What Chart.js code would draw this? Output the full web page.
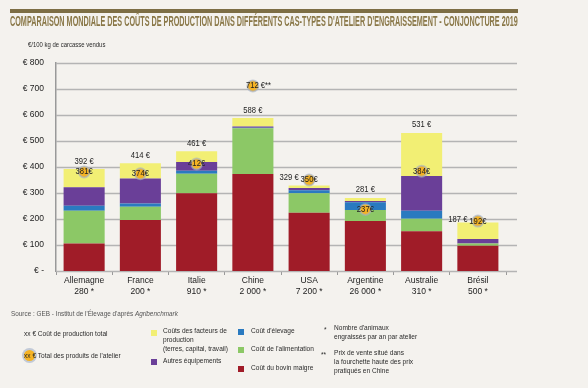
<!DOCTYPE html>
<html>
<head>
<meta charset="utf-8">
<script src="https://cdn.jsdelivr.net/npm/chart.js@4/dist/chart.umd.min.js"></script>
<style>
  body { margin: 0; background: #f4f2ee; }
  #wrap { position: relative; width: 588px; height: 388px; overflow: hidden; background: #f4f2ee;
          font-family: "Liberation Sans", Arial, sans-serif; color: #2a2a2a; }
  #chart { position: absolute; left: 0; top: 0; }
  .abs { position: absolute; white-space: nowrap; }
  #bar_top { left: 10px; top: 9px; width: 508px; height: 4px; background: #7d6e45; }
  #title { left: 10px; top: 13px; font-size: 14.5px; font-weight: bold; color: #8a7848; transform-origin: 0 0; }
  #unit { left: 28px; top: 41px; font-size: 7px; transform: scaleX(0.85); transform-origin: 0 0; }
  #source { left: 11px; top: 309px; font-size: 7.5px; color: #555; transform: scaleX(0.85); transform-origin: 0 0; }
  .lg { font-size: 8px; line-height: 9px; transform: scaleX(0.82); transform-origin: 0 0; }
  .sq { position: absolute; width: 6px; height: 6px; }
  .dot { position: absolute; width: 11px; height: 11px; border-radius: 50%; background: #f5b324; box-shadow: 0 0 0 2px rgba(160,175,200,0.6); }
</style>
</head>
<body>
<div id="wrap">
  <canvas id="chart" width="588" height="388"></canvas>
  <div class="abs" id="bar_top"></div>
  <div class="abs" id="title">COMPARAISON MONDIALE DES COÛTS DE PRODUCTION DANS DIFFÉRENTS CAS-TYPES D'ATELIER D'ENGRAISSEMENT - CONJONCTURE 2019</div>
  <div class="abs" id="unit">€/100 kg de carcasse vendus</div>
  <div class="abs" id="source">Source : GEB - Institut de l'Élevage d'après <i>Agribenchmark</i></div>

  <div class="abs lg" style="left:24px; top:329px;">xx € Coût de production total</div>
  <div class="dot" style="left:24px; top:350px;"></div>
  <div class="abs lg" style="left:24px; top:351px;">xx € Total des produits de l'atelier</div>

  <div class="sq" style="left:151px; top:330px; background:#f2ef74;"></div>
  <div class="abs lg" style="left:163px; top:326px;">Coûts des facteurs de<br>production<br>(terres, capital, travail)</div>
  <div class="sq" style="left:151px; top:359px; background:#6a3f98;"></div>
  <div class="abs lg" style="left:163px; top:356px;">Autres équipements</div>

  <div class="sq" style="left:238px; top:329px; background:#2a7ac0;"></div>
  <div class="abs lg" style="left:251px; top:326px;">Coût d'élevage</div>
  <div class="sq" style="left:238px; top:347px; background:#8cc866;"></div>
  <div class="abs lg" style="left:251px; top:344px;">Coût de l'alimentation</div>
  <div class="sq" style="left:238px; top:366px; background:#a01c28;"></div>
  <div class="abs lg" style="left:251px; top:363px;">Coût du bovin maigre</div>

  <div class="abs lg" style="left:324px; top:325px;">*</div>
  <div class="abs lg" style="left:334px; top:323px;">Nombre d'animaux<br>engraissés par an par atelier</div>
  <div class="abs lg" style="left:321px; top:350px;">**</div>
  <div class="abs lg" style="left:334px; top:348px;">Prix de vente situé dans<br>la fourchette haute des prix<br>pratiqués en Chine</div>
</div>
<script>
var countries = ["Allemagne", "France", "Italie", "Chine", "USA", "Argentine", "Australie", "Brésil"];
var animals = ["280 *", "200 *", "910 *", "2 000 *", "7 200 *", "26 000 *", "310 *", "500 *"];

var bovin_maigre = [106, 196, 299, 373, 224, 192, 153, 97];
var alimentation = [126, 51, 75, 176, 75, 43, 48, 9];
var elevage = [19, 13, 12, 2, 12, 29, 31, 0];
var equipements = [71, 96, 33, 5, 8, 5, 133, 17];
var facteurs = [70, 58, 42, 32, 10, 12, 166, 64];

var cout_total = [392, 414, 461, 588, 329, 281, 531, 187];
var produits = [381, 374, 412, 712, 350, 237, 384, 192];
var produits_note = ["", "", "", " €**", "", "", "", ""];

var FONT = '"Liberation Sans", Arial, sans-serif';

// squeeze the title into the width of the olive bar
var title = document.getElementById("title");
title.style.transform = "scaleX(" + (508 / title.scrollWidth) + ")";

var labels = countries.map(function(c, i) { return [c, animals[i]]; });

// gridlines run a bit past the last category, like the original
var grid_plugin = {
  id: "grid_ext",
  beforeDatasetsDraw: function(chart) {
    var ctx = chart.ctx, y = chart.scales.y, area = chart.chartArea;
    ctx.save();
    ctx.strokeStyle = "#b4b4b4";
    ctx.lineWidth = 1.5;
    for (var v = 100; v <= 800; v += 100) {
      var py = Math.round(y.getPixelForValue(v)) + 0.5;
      ctx.beginPath();
      ctx.moveTo(area.left, py);
      ctx.lineTo(area.right + 11, py);
      ctx.stroke();
    }
    ctx.beginPath();
    ctx.moveTo(area.left, area.bottom + 0.5);
    ctx.lineTo(area.right + 11, area.bottom + 0.5);
    ctx.stroke();
    ctx.restore();
  }
};

var narrow_text = function(ctx, txt, x, y, align) {
  ctx.save();
  ctx.translate(x, y);
  ctx.scale(0.85, 1);
  ctx.textAlign = align;
  ctx.fillText(txt, 0, 0);
  ctx.restore();
};

var labels_plugin = {
  id: "value_labels",
  afterDatasetsDraw: function(chart) {
    var ctx = chart.ctx, x = chart.scales.x, y = chart.scales.y;
    ctx.save();
    ctx.font = "9px " + FONT;
    ctx.fillStyle = "#222";
    ctx.textBaseline = "middle";
    for (var i = 0; i < countries.length; i++) {
      var px = x.getPixelForValue(i);
      var ly = y.getPixelForValue(cout_total[i]) - 8;
      var cy = y.getPixelForValue(produits[i]);
      var lx = px;
      if (Math.abs(cy - ly) < 8) {
        ly = cy - 2;
        lx = px - 20;
      }
      narrow_text(ctx, cout_total[i] + " €", lx, ly, "center");

      if (produits_note[i]) {
        narrow_text(ctx, produits[i] + produits_note[i], px - 7, cy, "left");
      } else {
        narrow_text(ctx, produits[i] + "€", px, cy, "center");
      }
    }
    ctx.restore();
  }
};

var chart = new Chart("chart", {
  data: {
    labels: labels,
    datasets: [
      { type: "line", label: "Total des produits", data: produits, showLine: false,
        pointRadius: 5.5, pointBackgroundColor: "#f5b324",
        pointBorderColor: "rgba(160,175,200,0.6)", pointBorderWidth: 2, order: 0 },
      { type: "bar", label: "Coût du bovin maigre", data: bovin_maigre, backgroundColor: "#a01c28", order: 1 },
      { type: "bar", label: "Coût de l'alimentation", data: alimentation, backgroundColor: "#8cc866", order: 1 },
      { type: "bar", label: "Coût d'élevage", data: elevage, backgroundColor: "#2a7ac0", order: 1 },
      { type: "bar", label: "Autres équipements", data: equipements, backgroundColor: "#6a3f98", order: 1 },
      { type: "bar", label: "Coûts des facteurs de production", data: facteurs, backgroundColor: "#f2ef74", order: 1 }
    ]
  },
  options: {
    responsive: false,
    animation: false,
    events: [],
    layout: { padding: { left: 0, top: 63, right: 82, bottom: 86 } },
    plugins: { legend: { display: false }, tooltip: { enabled: false } },
    datasets: { bar: { categoryPercentage: 1, barPercentage: 0.73, stack: "cost" } },
    scales: {
      x: {
        stacked: true,
        grid: { display: true, drawOnChartArea: false, offset: true, tickLength: 4, color: "#999" },
        border: { display: false },
        ticks: { font: { family: FONT, size: 8.5 }, color: "#222", padding: 1, maxRotation: 0 },
        afterFit: function(s) { s.height = 31; }
      },
      y: {
        stacked: true,
        min: 0, max: 800,
        grid: { display: false },
        border: { display: true, color: "#999", width: 1.5 },
        ticks: {
          stepSize: 100,
          font: { family: FONT, size: 8.5 },
          color: "#222",
          padding: 4,
          callback: function(v) { return v === 0 ? "€ -" : "€ " + v; }
        },
        afterFit: function(s) { s.width = 56; }
      }
    }
  },
  plugins: [grid_plugin, labels_plugin]
});
</script>
</body>
</html>
